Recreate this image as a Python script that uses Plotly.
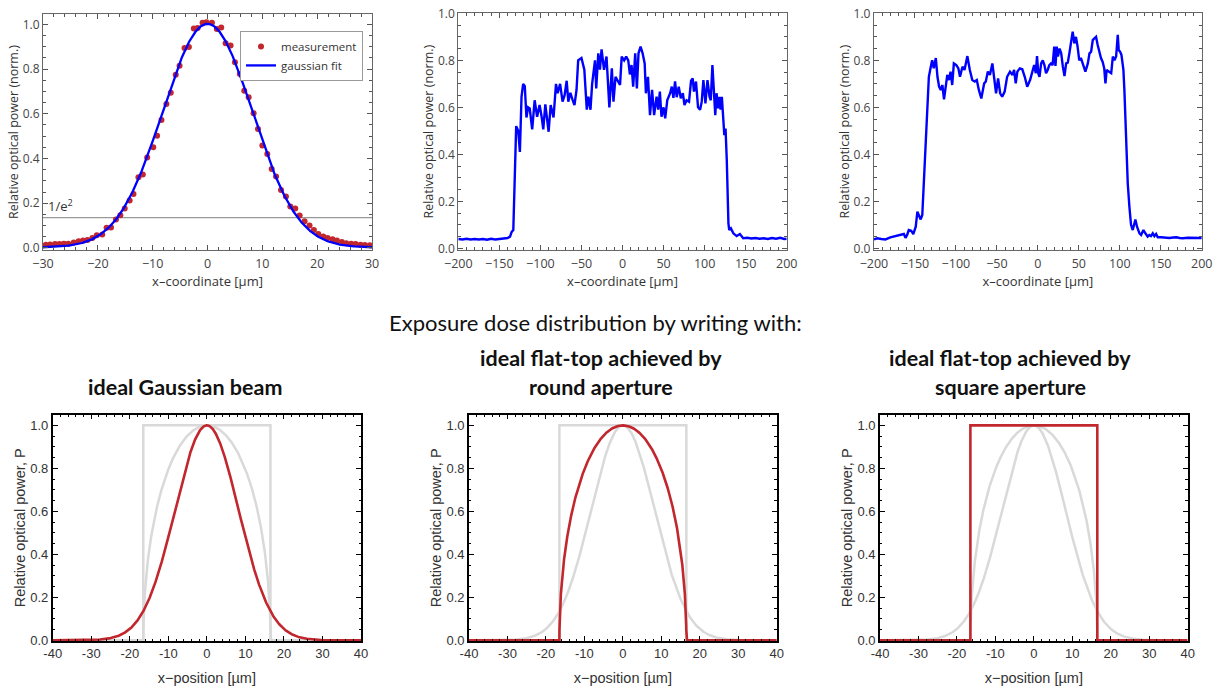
import numpy as np
import plotly.graph_objects as go

# ---------------- measured Gaussian spot profile ----------------
meas_x = [-29.5, -28.7, -27.8, -27.0, -26.2, -25.4, -24.4, -23.5, -22.7, -21.9,
          -21.0, -20.2, -19.2, -18.4, -17.6, -16.7, -15.9, -15.1, -14.2, -13.5,
          -12.6, -11.8, -11.0, -9.9, -9.2, -8.4, -7.5, -6.7, -5.8, -5.1,
          -4.2, -3.4, -2.5, -1.8, -0.9, -0.2, 0.8, 1.7, 2.5, 3.3,
          4.2, 5.0, 5.9, 6.7, 7.5, 8.4, 9.2, 10.0, 10.9, 11.7,
          12.5, 13.4, 14.3, 15.1, 16.0, 16.8, 17.7, 18.6, 19.4, 20.2,
          21.1, 21.9, 22.8, 23.6, 24.5, 25.3, 26.2, 27.0, 27.9, 28.7, 29.6]
meas_y = [0.015, 0.016, 0.018, 0.018, 0.019, 0.019, 0.024, 0.030, 0.033, 0.036,
          0.045, 0.057, 0.060, 0.091, 0.092, 0.127, 0.146, 0.177, 0.212, 0.241,
          0.316, 0.328, 0.405, 0.450, 0.502, 0.572, 0.644, 0.694, 0.775, 0.815,
          0.894, 0.899, 0.981, 0.984, 1.007, 1.009, 1.007, 0.979, 0.986, 0.915,
          0.905, 0.830, 0.778, 0.703, 0.674, 0.602, 0.532, 0.458, 0.420, 0.353,
          0.320, 0.259, 0.230, 0.185, 0.176, 0.145, 0.119, 0.100, 0.080, 0.063,
          0.051, 0.045, 0.039, 0.033, 0.027, 0.021, 0.019, 0.018, 0.015, 0.013, 0.012]

# Gaussian fit of the spot: amplitude, 1/e^2 radius [µm], background
fit_amp = 1.0
fit_w = 16.4
fit_offset = 0.002
inv_e2 = float(np.exp(-2.0))

# ---------------- measured flat-top profiles ----------------
round_ap_x = [-200, -195, -190, -185, -180, -175, -170, -165, -160, -155, -150, -145, -140,
              -137, -135, -133, -132, -131, -129.5, -127, -125, -123, -121, -119, -117,
              -115, -113, -110, -107, -104, -101, -98.5, -96.5, -94, -90, -87.5, -84,
              -81, -79, -76, -73, -70.5, -68, -66, -63.5, -61, -58.5, -56, -54, -50,
              -46.5, -43.5, -41.5, -39, -37, -33.5, -32, -29.5, -27.5, -25.5, -22.5,
              -19.5, -16, -13, -11, -8.5, -6, -3, -1, 2, 4.5, 7, 9, 11, 13, 15.5, 17.5,
              19.5, 22, 24.5, 27, 28.5, 31, 33.5, 36, 38.5, 41.5, 43.5, 45.5, 47.5, 50,
              52, 54.5, 58, 60, 62, 64, 66, 68.5, 71, 73.5, 75.5, 78, 81, 83.5, 85.5, 87,
              89.5, 92, 94.5, 96.5, 98.5, 101, 103.5, 106, 107.5, 109.5, 111.5, 113,
              114.5, 116.5, 118, 119.5, 121, 123, 124, 125.5, 127, 129, 130, 132, 135,
              139, 143, 147, 152, 157, 162, 167, 172, 177, 182, 187, 192, 197, 200]
round_ap_y = [0.040, 0.038, 0.041, 0.038, 0.040, 0.038, 0.040, 0.037, 0.041, 0.038, 0.040, 0.042, 0.044,
              0.050, 0.070, 0.078, 0.20, 0.40, 0.52, 0.50, 0.41, 0.645, 0.70, 0.69, 0.557,
              0.60, 0.595, 0.506, 0.63, 0.56, 0.61, 0.56, 0.506, 0.613, 0.496, 0.61, 0.557,
              0.70, 0.66, 0.70, 0.624, 0.652, 0.713, 0.624, 0.662, 0.634, 0.61, 0.674, 0.80, 0.81,
              0.76, 0.59, 0.645, 0.59, 0.70, 0.80, 0.68, 0.83, 0.76, 0.847, 0.76,
              0.816, 0.60, 0.766, 0.624, 0.73, 0.716, 0.695, 0.816, 0.80, 0.816, 0.80, 0.74, 0.78, 0.688, 0.83, 0.68,
              0.83, 0.858, 0.83, 0.787, 0.66, 0.73, 0.567, 0.674, 0.567, 0.645, 0.59, 0.667, 0.56, 0.60,
              0.553, 0.63, 0.66, 0.688, 0.64, 0.71, 0.643, 0.688, 0.638, 0.66, 0.61, 0.63, 0.624, 0.713, 0.723, 0.667,
              0.71, 0.60, 0.59, 0.624, 0.716, 0.617, 0.716, 0.645, 0.63, 0.78, 0.66, 0.567,
              0.66, 0.596, 0.645, 0.59, 0.645, 0.518, 0.482, 0.51, 0.376, 0.106, 0.078, 0.085, 0.064,
              0.052, 0.061, 0.043, 0.045, 0.042, 0.044, 0.041, 0.043, 0.040, 0.044, 0.041, 0.045, 0.040, 0.041]

square_ap_x = [-200, -196, -191, -186, -180, -175.5, -171.5, -167, -163.5, -161.5, -159.5, -157.5,
               -154.5, -152, -149, -147, -145, -143, -141, -139, -137, -135, -133, -131, -129,
               -127, -124.5, -122.5, -120.5, -118.5, -116.5, -114.5, -112.5, -110.5, -108.5,
               -106.5, -104.5, -102.5, -99.5, -97, -95, -92, -89.5, -86, -83, -80, -77, -74.5,
               -72, -69, -65.5, -63.5, -61, -58.5, -55.5, -53.5, -51, -48.5, -46, -43.5, -40.5,
               -37.5, -34, -31, -29, -27, -25, -22, -19, -16, -13, -9.5, -7, -4.5, -2.5, -1,
               0.5, 2, 4, 6, 8, 10, 12, 14, 16, 18, 20, 21.5, 23, 24.5, 26.5, 28.5, 30.5, 32.5,
               34.5, 36.5, 38.5, 40.5, 42.5, 44.5, 46.5, 48.5, 50.5, 52.5, 55, 58, 61, 63, 65,
               67, 69, 71, 73, 75, 77, 79, 81, 82.5, 84, 86.5, 89.5, 91.5, 93.5, 95.5, 97.5,
               98.7, 100.3, 102, 104.4, 105.6, 107.6, 109.7, 111.7, 113.7, 115.8, 117.8, 119,
               121, 124, 126, 128.8, 131.2, 134, 136, 138, 140.2, 142.2, 144.3, 146.3, 150.4,
               155, 160.5, 165, 169, 173, 177, 183, 189, 194, 200]
square_ap_y = [0.038, 0.043, 0.040, 0.038, 0.047, 0.050, 0.054, 0.057, 0.061, 0.045, 0.057, 0.078,
               0.075, 0.061, 0.092, 0.156, 0.135, 0.123, 0.142, 0.277, 0.447, 0.589, 0.73, 0.766, 0.80,
               0.766, 0.81, 0.73, 0.688, 0.674, 0.695, 0.634, 0.695, 0.738, 0.716,
               0.752, 0.695, 0.787, 0.78, 0.766, 0.73, 0.773, 0.759, 0.818, 0.759, 0.716, 0.71, 0.716,
               0.674, 0.638, 0.702, 0.71, 0.752, 0.738, 0.787, 0.738, 0.66, 0.723, 0.66, 0.645, 0.667,
               0.73, 0.752, 0.738, 0.759, 0.702, 0.752, 0.766, 0.762, 0.73, 0.688, 0.716, 0.752, 0.78, 0.745, 0.818,
               0.745, 0.73, 0.787, 0.80, 0.78, 0.745, 0.759, 0.78, 0.787, 0.78, 0.858, 0.776, 0.858, 0.816, 0.85, 0.83, 0.773, 0.733,
               0.787, 0.79, 0.83, 0.886, 0.922, 0.872, 0.90, 0.858, 0.80, 0.81, 0.78, 0.752, 0.787, 0.83, 0.837,
               0.886, 0.894, 0.90, 0.865, 0.83, 0.81, 0.794, 0.766, 0.702, 0.759, 0.752, 0.745, 0.816, 0.80, 0.816, 0.908,
               0.844, 0.837, 0.823, 0.759, 0.674, 0.447, 0.277, 0.177, 0.10, 0.078, 0.106, 0.123,
               0.092, 0.064, 0.057, 0.078, 0.064, 0.050, 0.057, 0.052, 0.064, 0.052, 0.061, 0.047, 0.047,
               0.045, 0.044, 0.046, 0.047, 0.044, 0.043, 0.045, 0.044, 0.046, 0.044]

# ---------------- ideal exposure-dose profiles ----------------
beam_radius = 16.5          # 1/e^2 radius of the Gaussian / aperture radius [µm]
ideal_range = (-40, 40)

x_fit = np.linspace(-30, 30, 601)
y_fit = fit_offset + fit_amp * np.exp(-2 * x_fit ** 2 / fit_w ** 2)

x_id = np.linspace(ideal_range[0], ideal_range[1], 4001)
dose_gauss = np.exp(-2 * x_id ** 2 / beam_radius ** 2)
dose_round = np.sqrt(np.clip(1 - (x_id / beam_radius) ** 2, 0, None))
x_sq = [ideal_range[0], -beam_radius, -beam_radius, beam_radius, beam_radius, ideal_range[1]]
dose_sq = [0, 0, 1, 1, 0, 0]

bottom_ticks = [-40, -30, -20, -10, 0, 10, 20, 30, 40]
bottom_ticktext = [str(t) for t in bottom_ticks]

RED = "#C1272D"
GREY = "#D9D9D9"
BLUE = "#0000FF"
TOP_FONT = "Open Sans"
BOT_FONT = "Liberation Sans"
TITLE_FONT = "Lato"

fig = go.Figure()

# top row: measurements
fig.add_trace(go.Scatter(x=meas_x, y=meas_y, mode="markers", name="measurement",
                         marker=dict(color=RED, size=6), xaxis="x", yaxis="y"))
fig.add_trace(go.Scatter(x=x_fit, y=y_fit, mode="lines", name="gaussian fit",
                         line=dict(color=BLUE, width=2.3), xaxis="x", yaxis="y"))
fig.add_trace(go.Scatter(x=round_ap_x, y=round_ap_y, mode="lines", showlegend=False,
                         line=dict(color=BLUE, width=2.4), xaxis="x2", yaxis="y2"))
fig.add_trace(go.Scatter(x=square_ap_x, y=square_ap_y, mode="lines", showlegend=False,
                         line=dict(color=BLUE, width=2.4), xaxis="x3", yaxis="y3"))

# bottom row: ideal dose distributions
def ideal(ax, xs, ys, color, width):
    fig.add_trace(go.Scatter(x=xs, y=ys, mode="lines", showlegend=False,
                             line=dict(color=color, width=width),
                             xaxis="x" + ax, yaxis="y" + ax))

ideal("4", x_sq, dose_sq, GREY, 2.5)
ideal("4", x_id, dose_round, GREY, 2.5)
ideal("4", x_id, dose_gauss, RED, 2.6)

ideal("5", x_sq, dose_sq, GREY, 2.5)
ideal("5", x_id, dose_gauss, GREY, 2.5)
ideal("5", x_id, dose_round, RED, 2.6)

ideal("6", x_id, dose_gauss, GREY, 2.5)
ideal("6", x_id, dose_round, GREY, 2.5)
ideal("6", x_sq, dose_sq, RED, 2.6)


def top_x(domain, rng, dtick, minor, anchor):
    return dict(domain=domain, range=rng, dtick=dtick, tick0=0, anchor=anchor, automargin=False,
                showgrid=False, zeroline=False, showline=True, linecolor="#666666",
                linewidth=1.2, mirror="allticks", ticks="inside", ticklen=5,
                ticklabelstandoff=2,
                tickcolor="#555555", tickfont=dict(family=TOP_FONT, size=12.5, color="#444444"),
                minor=dict(ticks="inside", ticklen=2.5, dtick=minor, tickcolor="#555555"),
                title=dict(text="x–coordinate [µm]", standoff=5,
                           font=dict(family=TOP_FONT, size=13, color="#333333")))


def top_y(domain, rng, anchor):
    return dict(domain=domain, range=rng, dtick=0.2, tick0=0, tickformat=".1f", anchor=anchor,
                automargin=False,
                showgrid=False, zeroline=False, showline=True, linecolor="#666666",
                linewidth=1.2, mirror="allticks", ticks="inside", ticklen=5,
                tickcolor="#555555", tickfont=dict(family=TOP_FONT, size=12, color="#444444"),
                minor=dict(ticks="inside", ticklen=2.5, dtick=0.05, tickcolor="#555555"),
                title=dict(text="Relative optical power (norm.)", standoff=1,
                           font=dict(family=TOP_FONT, size=12.5, color="#333333")))


def bot_x(domain, anchor):
    return dict(domain=domain, range=list(ideal_range), tickvals=bottom_ticks,
                ticktext=bottom_ticktext, anchor=anchor, automargin=False,
                showgrid=False, zeroline=False, showline=True, linecolor="#000000",
                linewidth=1.6, mirror="allticks", ticks="inside", ticklen=5,
                tickcolor="#000000", tickfont=dict(family=BOT_FONT, size=13, color="#333333"),
                minor=dict(ticks="inside", ticklen=2.5, dtick=2, tickcolor="#000000"),
                title=dict(text="x−position [µm]", standoff=12,
                           font=dict(family=BOT_FONT, size=14.5, color="#333333")))


def bot_y(domain, anchor):
    return dict(domain=domain, range=[-0.003, 1.05], dtick=0.2, tick0=0, tickformat=".1f",
                anchor=anchor, automargin=False, showgrid=False, zeroline=False, showline=True,
                linecolor="#000000", linewidth=1.6, mirror="allticks", ticks="inside",
                ticklen=5, tickcolor="#000000",
                tickfont=dict(family=BOT_FONT, size=13, color="#333333"),
                minor=dict(ticks="inside", ticklen=2.5, dtick=0.05, tickcolor="#000000"),
                title=dict(text="Relative optical power, P", standoff=1,
                           font=dict(family=BOT_FONT, size=14.5, color="#333333")))


top_dom = [0.6361, 0.9806]
bot_dom = [0.0670, 0.3965]

fig.update_layout(
    width=1215, height=687,
    margin=dict(l=0, r=0, t=0, b=0, autoexpand=False),
    paper_bgcolor="white", plot_bgcolor="white",
    xaxis=top_x([0.0354, 0.3062], [-30, 30], 10, 2, "y"),
    yaxis=top_y([0.6361, 0.9796], [-0.009, 1.046], "x"),
    xaxis2=top_x([0.3772, 0.6475], [-200, 200], 50, 10, "y2"),
    yaxis2=top_y(top_dom, [-0.007, 1.0], "x2"),
    xaxis3=top_x([0.7193, 0.9891], [-200, 200], 50, 10, "y3"),
    yaxis3=top_y(top_dom, [-0.007, 1.0], "x3"),
    xaxis4=bot_x([0.0434, 0.2971], "y4"),
    yaxis4=bot_y(bot_dom, "x4"),
    xaxis5=bot_x([0.3860, 0.6393], "y5"),
    yaxis5=bot_y(bot_dom, "x5"),
    xaxis6=bot_x([0.7243, 0.9775], "y6"),
    yaxis6=bot_y(bot_dom, "x6"),
    legend=dict(x=240 / 1215, y=0.955, xanchor="left", yanchor="top",
                bordercolor="#9a9a9a", borderwidth=1, bgcolor="white",
                font=dict(family=TOP_FONT, size=11.5, color="#333333"),
                tracegroupgap=0, itemwidth=30),
    showlegend=True,
)

# 1/e^2 level in the spot profile
fig.add_shape(type="line", xref="x domain", yref="y", x0=0, x1=1, y0=inv_e2, y1=inv_e2,
              line=dict(color="#999999", width=1.3), layer="below")
fig.add_annotation(xref="x", yref="y", x=-29.4, y=inv_e2 + 0.003, text="1/e<sup>2</sup>",
                   showarrow=False, xanchor="left", yanchor="bottom",
                   font=dict(family=TOP_FONT, size=13, color="#333333"))

# headings
fig.add_annotation(xref="paper", yref="paper", x=595 / 1215, y=1 - 323 / 687,
                   text="Exposure dose distribution by writing with:", showarrow=False,
                   xanchor="center", yanchor="middle",
                   font=dict(family=TITLE_FONT, size=22, color="#111111"))

headings = [
    (185, 387, "ideal Gaussian beam"),
    (601, 358, "ideal flat-top achieved by"),
    (601, 387, "round aperture"),
    (1010, 358, "ideal flat-top achieved by"),
    (1010, 387, "square aperture"),
]
for hx, hy, txt in headings:
    fig.add_annotation(xref="paper", yref="paper", x=hx / 1215, y=1 - hy / 687,
                       text="<b>" + txt + "</b>", showarrow=False,
                       xanchor="center", yanchor="middle",
                       font=dict(family=TITLE_FONT, size=21.5, color="#111111"))

fig.write_html("out.html")
